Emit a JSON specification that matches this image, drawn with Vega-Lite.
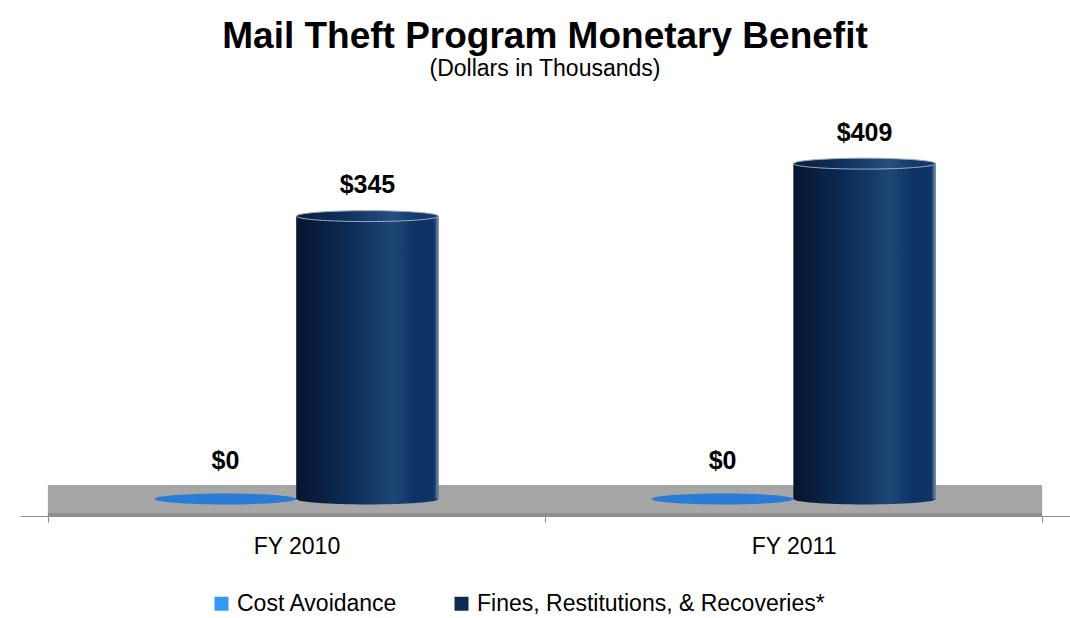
{
  "$schema": "https://vega.github.io/schema/vega-lite/v6.json",
  "width": 1050,
  "height": 416,
  "autosize": {"type": "none"},
  "padding": {"left": 20, "top": 100, "right": 0, "bottom": 102},
  "background": "white",
  "config": {"font": "Liberation Sans", "view": {"stroke": null}},
  "title": {
    "text": "Mail Theft Program Monetary Benefit",
    "subtitle": "(Dollars in Thousands)",
    "fontSize": 37,
    "fontWeight": "bold",
    "subtitleFontSize": 23,
    "color": "#000000",
    "subtitleColor": "#000000",
    "anchor": "middle",
    "offset": 18,
    "subtitlePadding": 2
  },
  "data": {
    "values": [
      {"year": "FY 2010", "series": "Cost Avoidance", "value": 0},
      {"year": "FY 2010", "series": "Fines, Restitutions, & Recoveries*", "value": 345},
      {"year": "FY 2011", "series": "Cost Avoidance", "value": 0},
      {"year": "FY 2011", "series": "Fines, Restitutions, & Recoveries*", "value": 409}
    ]
  },
  "encoding": {
    "x": {
      "field": "year",
      "type": "nominal",
      "scale": {"paddingInner": 0, "paddingOuter": 0.056},
      "axis": {
        "title": null,
        "labelAngle": 0,
        "labelFontSize": 23,
        "labelColor": "#000000",
        "labelPadding": 13,
        "domainColor": "#8c8c8c",
        "tickColor": "#8c8c8c",
        "tickSize": 6,
        "tickBand": "extent"
      }
    }
  },
  "layer": [
    {
      "transform": [{"filter": "datum.series === 'Cost Avoidance'"}],
      "mark": {"type": "rect", "fill": "#a6a6a6"},
      "encoding": {
        "y": {"datum": 17, "type": "quantitative", "scale": {"domain": [-20.7, 486.6], "nice": false, "zero": false}, "axis": null},
        "y2": {"datum": -17}
      }
    },
    {
      "transform": [{"filter": "datum.series === 'Cost Avoidance'"}],
      "mark": {"type": "rect", "fill": "#8e8e8e"},
      "encoding": {
        "y": {"datum": -17, "type": "quantitative"},
        "y2": {"datum": -20.7}
      }
    },
    {
      "mark": {"type": "bar"},
      "encoding": {
        "xOffset": {"field": "series", "type": "nominal", "scale": {"domain": ["Cost Avoidance", "Fines, Restitutions, & Recoveries*"], "paddingInner": 0, "paddingOuter": 0.75}},
        "y": {"field": "value", "type": "quantitative"},
        "y2": {"datum": 0},
        "color": {
          "field": "series",
          "type": "nominal",
          "scale": {"domain": ["Cost Avoidance", "Fines, Restitutions, & Recoveries*"], "range": ["#3399ff", "#0d2a52"]},
          "legend": {
            "title": null,
            "orient": "none",
            "legendX": 190,
            "legendY": 492,
            "direction": "horizontal",
            "symbolType": "square",
            "symbolSize": 196,
            "symbolStrokeWidth": 0,
            "labelFontSize": 23,
            "labelColor": "#000000",
            "labelOffset": 4,
            "labelLimit": 600,
            "columnPadding": 52
          }
        }
      }
    },
    {
      "transform": [{"filter": "datum.series === 'Cost Avoidance'"}],
      "mark": {"type": "point", "shape": "M-1,0A1,0.077,0,1,0,1,0A1,0.077,0,1,0,-1,0Z", "filled": true, "fill": "#2a7bd5", "opacity": 1, "size": 20164, "strokeWidth": 0},
      "encoding": {
        "xOffset": {"field": "series", "type": "nominal"},
        "y": {"field": "value", "type": "quantitative"}
      }
    },
    {
      "transform": [{"filter": "datum.series !== 'Cost Avoidance'"}],
      "mark": {"type": "point", "shape": "M-1,0A1,0.077,0,1,0,1,0A1,0.077,0,1,0,-1,0Z", "filled": true, "opacity": 1, "size": 20164, "strokeWidth": 0,
        "fill": {"gradient": "linear", "x1": 0, "x2": 1, "y1": 0, "y2": 0, "stops": [
          {"offset": 0, "color": "#06152e"}, {"offset": 0.35, "color": "#0b2a55"}, {"offset": 0.68, "color": "#1d4676"}, {"offset": 0.85, "color": "#0d3263"}, {"offset": 1, "color": "#0f3466"}]}},
      "encoding": {
        "xOffset": {"field": "series", "type": "nominal"},
        "y": {"datum": 0, "type": "quantitative"}
      }
    },
    {
      "transform": [{"filter": "datum.series !== 'Cost Avoidance'"}],
      "mark": {"type": "bar",
        "fill": {"gradient": "linear", "x1": 0, "x2": 1, "y1": 0, "y2": 0, "stops": [
          {"offset": 0, "color": "#06152e"}, {"offset": 0.35, "color": "#0b2a55"}, {"offset": 0.68, "color": "#1d4676"}, {"offset": 0.85, "color": "#0d3263"}, {"offset": 0.97, "color": "#0f3466"}, {"offset": 1, "color": "#7f93ad"}]}},
      "encoding": {
        "xOffset": {"field": "series", "type": "nominal"},
        "y": {"field": "value", "type": "quantitative"},
        "y2": {"datum": 0}
      }
    },
    {
      "transform": [{"filter": "datum.series !== 'Cost Avoidance'"}],
      "mark": {"type": "point", "shape": "M-1,0A1,0.077,0,1,0,1,0A1,0.077,0,1,0,-1,0Z", "filled": true, "opacity": 1, "size": 20164, "stroke": "#9aaac0", "strokeWidth": 1,
        "fill": {"gradient": "linear", "x1": 0, "x2": 1, "y1": 0, "y2": 0, "stops": [
          {"offset": 0, "color": "#0a1d3c"}, {"offset": 0.35, "color": "#10315f"}, {"offset": 0.68, "color": "#244f80"}, {"offset": 0.85, "color": "#13396b"}, {"offset": 1, "color": "#163b6d"}]}},
      "encoding": {
        "xOffset": {"field": "series", "type": "nominal"},
        "y": {"field": "value", "type": "quantitative"}
      }
    },
    {
      "transform": [{"filter": "datum.value > 0"}],
      "mark": {"type": "text", "fontSize": 25, "fontWeight": "bold", "color": "#000000", "dy": -23, "baseline": "alphabetic"},
      "encoding": {
        "xOffset": {"field": "series", "type": "nominal"},
        "y": {"field": "value", "type": "quantitative"},
        "text": {"field": "value", "type": "quantitative", "format": "$,.0f"}
      }
    },
    {
      "transform": [{"filter": "datum.value == 0"}],
      "mark": {"type": "text", "fontSize": 25, "fontWeight": "bold", "color": "#000000", "dy": -30, "baseline": "alphabetic"},
      "encoding": {
        "xOffset": {"field": "series", "type": "nominal"},
        "y": {"field": "value", "type": "quantitative"},
        "text": {"field": "value", "type": "quantitative", "format": "$,.0f"}
      }
    }
  ]
}
